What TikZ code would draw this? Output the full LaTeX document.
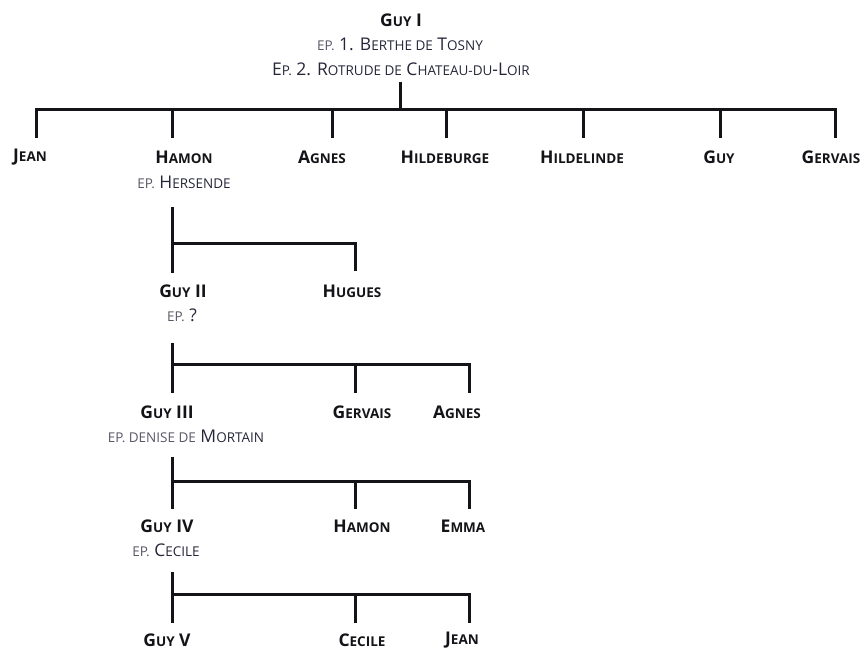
\documentclass[tikz,border=0pt]{standalone}
\usepackage{fontspec}
\setmainfont{Open Sans}
\usepackage{tikz}
\definecolor{name}{HTML}{141418}
\definecolor{spouse}{HTML}{26263A}
\definecolor{faint}{HTML}{585866}
\newcommand\lc[1]{{\fontsize{13.5}{15}\selectfont #1}}
\newcommand\ep[1]{{\color{faint}\fontsize{13.5}{15}\selectfont #1}}
\tikzset{
  link/.style={line width=3pt, draw=name},
  pers/.style={text=name, font=\fontsize{17.5}{19}\selectfont\bfseries, inner sep=0pt},
  wife/.style={text=spouse, font=\fontsize{17.5}{19}\selectfont, inner sep=0pt},
}

\begin{document}
\begin{tikzpicture}[x=1pt, y=-1pt]
  \useasboundingbox (0,0) rectangle (868,650);

  % Guy I and his wives
  \node[pers] (guyI) at (401,20) {G\lc{UY} I};
  \node[wife] (wifeIa) at (400,44) {\ep{EP.} 1. B\lc{ERTHE DE} T\lc{OSNY}};
  \node[wife] (wifeIb) at (401,69) {E\lc{P.} 2. R\lc{OTRUDE DE} C\lc{HATEAU-DU}-L\lc{OIR}};

  % children of Guy I
  \node[pers] (jean)   at (30,157)  {J\lc{EAN}};
  \node[pers] (hamon)  at (184,157) {H\lc{AMON}};
  \node[wife] (hersende) at (184,182) {\ep{EP.} H\lc{ERSENDE}};
  \node[pers] (agnes)  at (322,157) {A\lc{GNES}};
  \node[pers] (hildeb) at (445,157) {H\lc{ILDEBURGE}};
  \node[pers] (hildel) at (582,157) {H\lc{ILDELINDE}};
  \node[pers] (guy)    at (719,157) {G\lc{UY}};
  \node[pers] (gervais) at (831,157) {G\lc{ERVAIS}};

  % children of Hamon
  \node[pers] (guyII)  at (183,291) {G\lc{UY} II};
  \node[wife] (wifeII) at (182,315) {\ep{EP.} ?};
  \node[pers] (hugues) at (352,291) {H\lc{UGUES}};

  % children of Guy II
  \node[pers] (guyIII)  at (167,412) {G\lc{UY} III};
  \node[wife] (wifeIII) at (186,436) {\ep{EP. DENISE DE} M\lc{ORTAIN}};
  \node[pers] (gervaisII) at (362,412) {G\lc{ERVAIS}};
  \node[pers] (agnesII) at (457,412) {A\lc{GNES}};

  % children of Guy III
  \node[pers] (guyIV)  at (167,526) {G\lc{UY} IV};
  \node[wife] (wifeIV) at (166,550) {\ep{EP.} C\lc{ECILE}};
  \node[pers] (hamonII) at (362,526) {H\lc{AMON}};
  \node[pers] (emma)   at (463,526) {E\lc{MMA}};

  % children of Guy IV
  \node[pers] (guyV)   at (167,640) {G\lc{UY} V};
  \node[pers] (cecile) at (362,640) {C\lc{ECILE}};
  \node[pers] (jeanII) at (462,640) {J\lc{EAN}};

  % junctions, first generation
  \coordinate (p0) at (400,82);   % below the wives
  \coordinate (b0) at (400,110);  % on the bar
  \coordinate (l0) at (36,110);   % left end of bar
  \coordinate (r0) at (835,110);  % right end of bar
  \coordinate (jeanT)    at (36,138);
  \coordinate (hamonT)   at (172,138);
  \coordinate (agnesT)   at (332,138);
  \coordinate (hildebT)  at (446,138);
  \coordinate (hildelT)  at (583,138);
  \coordinate (guyT)     at (720,138);
  \coordinate (gervaisT) at (835,138);

  \draw[link] (p0) -- (b0);
  \draw[link] (jeanT) -- (l0) -- (r0) -- (gervaisT);
  \draw[link] (hamonT) -- (hamonT |- b0);
  \draw[link] (agnesT) -- (agnesT |- b0);
  \draw[link] (hildebT) -- (hildebT |- b0);
  \draw[link] (hildelT) -- (hildelT |- b0);
  \draw[link] (guyT) -- (guyT |- b0);

  % junctions under Hamon
  \coordinate (p1) at (172,207);
  \coordinate (b1) at (172,243);
  \coordinate (guyIIT) at (172,273);
  \coordinate (huguesT) at (355,271);

  \draw[link] (p1) -- (guyIIT);
  \draw[link] (b1) -| (huguesT);

  % junctions under Guy II
  \coordinate (p2) at (172,343);
  \coordinate (b2) at (172,364);
  \coordinate (guyIIIT) at (172,393);
  \coordinate (gervaisIIT) at (355,393);
  \coordinate (agnesIIT) at (469,393);

  \draw[link] (p2) -- (guyIIIT);
  \draw[link] (b2) -| (agnesIIT);
  \draw[link] (gervaisIIT) -- (gervaisIIT |- b2);

  % junctions under Guy III
  \coordinate (p3) at (172,457);
  \coordinate (b3) at (172,481);
  \coordinate (guyIVT) at (172,509);
  \coordinate (hamonIIT) at (355,509);
  \coordinate (emmaT) at (469,509);

  \draw[link] (p3) -- (guyIVT);
  \draw[link] (b3) -| (emmaT);
  \draw[link] (hamonIIT) -- (hamonIIT |- b3);

  % junctions under Guy IV
  \coordinate (p4) at (172,572);
  \coordinate (b4) at (172,594);
  \coordinate (guyVT) at (172,623);
  \coordinate (cecileT) at (355,623);
  \coordinate (jeanIIT) at (469,623);

  \draw[link] (p4) -- (guyVT);
  \draw[link] (b4) -| (jeanIIT);
  \draw[link] (cecileT) -- (cecileT |- b4);
\end{tikzpicture}
\end{document}
